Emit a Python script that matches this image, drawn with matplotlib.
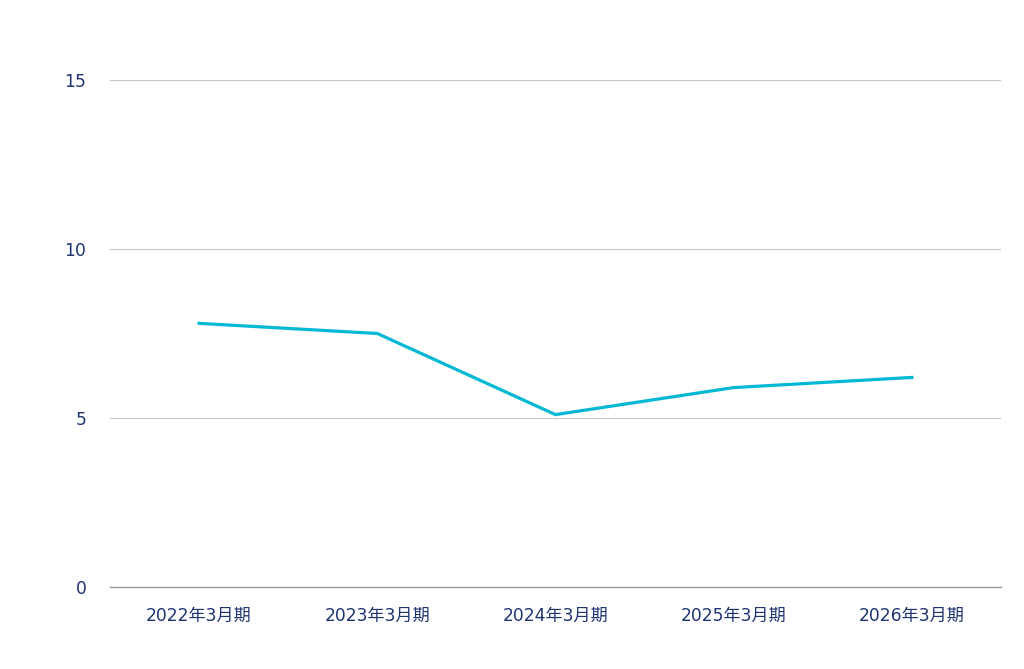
import matplotlib
matplotlib.use('Agg')
import matplotlib.pyplot as plt

plt.rcParams['font.family'] = ['DejaVu Sans', 'Noto Sans CJK JP']

periods = ['2022年3月期', '2023年3月期', '2024年3月期', '2025年3月期', '2026年3月期']
values = [7.8, 7.5, 5.1, 5.9, 6.2]
y_ticks = [0, 5, 10, 15]

text_color = '#1f3470'
line_color = '#00b8d4'

fig = plt.figure(figsize=(10.24, 6.69), dpi=100)
ax = fig.add_axes([110 / 1024, 82 / 669, 891 / 1024, 507 / 669])

x = list(range(len(periods)))
ax.plot(x, values, color=line_color, linewidth=2.3, solid_joinstyle='miter')

ax.set_xlim(-0.5, len(periods) - 0.5)
ax.set_ylim(0, 15)
ax.set_xticks(x)
ax.set_xticklabels(periods)
ax.set_yticks(y_ticks)
ax.set_yticklabels([str(v) for v in y_ticks])

# gridlines
for v in y_ticks[1:]:
    ax.axhline(v, color='#c8c8c8', linewidth=0.8, zorder=0)
ax.axhline(0, color='#999999', linewidth=1.0, zorder=0, clip_on=False)

for s in ax.spines.values():
    s.set_visible(False)
ax.tick_params(axis='both', length=0, colors=text_color, labelsize=12.3)
ax.tick_params(axis='x', pad=14)
ax.tick_params(axis='y', pad=17)

fig.savefig('out.png', dpi=100)
